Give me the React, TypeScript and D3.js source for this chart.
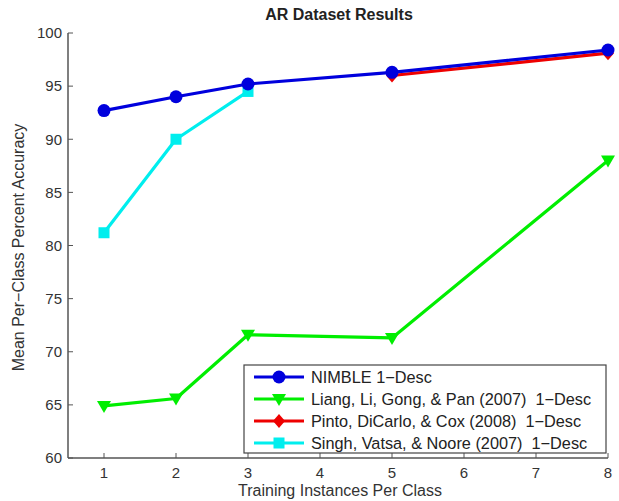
import React from "react";
import * as d3 from "d3";

const title = "AR Dataset Results";
const xLabel = "Training Instances Per Class";
const yLabel = "Mean Per\u2212Class Percent Accuracy";
const xTicks = [1, 2, 3, 4, 5, 6, 7, 8];
const yTicks = [60, 65, 70, 75, 80, 85, 90, 95, 100];

const nimbleX = [1, 2, 3, 5, 8];
const nimbleY = [92.7, 94.0, 95.2, 96.3, 98.4];
const liangX = [1, 2, 3, 5, 8];
const liangY = [64.9, 65.6, 71.6, 71.3, 88.0];
const pintoX = [5, 8];
const pintoY = [96.0, 98.1];
const singhX = [1, 2, 3];
const singhY = [81.2, 90.0, 94.5];

type Series = { name: string; xs: number[]; ys: number[]; color: string; marker: string };

const series: Series[] = [
  { name: "Liang, Li, Gong, & Pan (2007)  1\u2212Desc", xs: liangX, ys: liangY, color: "#00ee00", marker: "tri" },
  { name: "Singh, Vatsa, & Noore (2007)  1\u2212Desc", xs: singhX, ys: singhY, color: "#00eeee", marker: "square" },
  { name: "Pinto, DiCarlo, & Cox (2008)  1\u2212Desc", xs: pintoX, ys: pintoY, color: "#ee0000", marker: "diamond" },
  { name: "NIMBLE 1\u2212Desc", xs: nimbleX, ys: nimbleY, color: "#0000dd", marker: "circle" },
];
const legendOrder = [3, 0, 2, 1];

function Marker({ type, x, y, color }: { type: string; x: number; y: number; color: string }) {
  if (type === "circle") return <circle cx={x} cy={y} r={6.5} fill={color} />;
  if (type === "square") return <rect x={x - 5.5} y={y - 5.5} width={11} height={11} fill={color} />;
  if (type === "diamond")
    return <path d={`M${x},${y - 7}L${x + 6},${y}L${x},${y + 7}L${x - 6},${y}Z`} fill={color} />;
  return <path d={`M${x - 7},${y - 5}L${x + 7},${y - 5}L${x},${y + 7}Z`} fill={color} />;
}

export default function App() {
  const W = 619, H = 501;
  const x = d3.scaleLinear().domain([0.5, 8]).range([68, 608]);
  const y = d3.scaleLinear().domain([60, 100]).range([458, 33]);
  const font = "'Liberation Sans', Arial, sans-serif";
  const axisColor = "#555";
  const line = (s: Series) =>
    d3.line<number>().x((_, i) => x(s.xs[i])).y((v) => y(v))(s.ys) || "";

  const lg = { x: 244, y: 365, w: 362, h: 88, row: 22 };

  return (
    <svg width={W} height={H} style={{ position: "absolute", left: 0, top: 0 }} fontFamily={font}>
      <rect width={W} height={H} fill="#fff" />
      <text x={339} y={20} textAnchor="middle" fontSize={16} fontWeight="bold" fill="#222">
        {title}
      </text>
      {/* axes */}
      <line x1={x(0.5)} x2={x(0.5)} y1={y(100)} y2={y(60)} stroke={axisColor} strokeWidth={1.5} />
      <line x1={x(0.5)} x2={x(8)} y1={y(60)} y2={y(60)} stroke={axisColor} strokeWidth={1.5} />
      {yTicks.map((t) => (
        <g key={"y" + t}>
          <line x1={x(0.5)} x2={x(0.5) + 5} y1={y(t)} y2={y(t)} stroke={axisColor} strokeWidth={1} />
          <text x={x(0.5) - 6} y={y(t)} dy="0.35em" textAnchor="end" fontSize={15} fill="#333">
            {t}
          </text>
        </g>
      ))}
      {xTicks.map((t) => (
        <g key={"x" + t}>
          <line x1={x(t)} x2={x(t)} y1={y(60)} y2={y(60) - 5} stroke={axisColor} strokeWidth={1} />
          <text x={x(t)} y={y(60) + 20} textAnchor="middle" fontSize={15} fill="#333">
            {t}
          </text>
        </g>
      ))}
      <text x={340} y={496} textAnchor="middle" fontSize={16} fill="#333">
        {xLabel}
      </text>
      <text transform={`translate(24,${(y(60) + y(100)) / 2 + 2}) rotate(-90)`} textAnchor="middle" fontSize={16} fill="#333">
        {yLabel}
      </text>
      {/* series */}
      {series.map((s) => (
        <g key={s.name}>
          <path d={line(s)} fill="none" stroke={s.color} strokeWidth={3.2} strokeLinejoin="round" />
          {s.ys.map((v, i) => (
            <Marker key={i} type={s.marker} x={x(s.xs[i])} y={y(v)} color={s.color} />
          ))}
        </g>
      ))}
      {/* legend */}
      <rect x={lg.x} y={lg.y} width={lg.w} height={lg.h} fill="#fff" stroke="#444" strokeWidth={1.2} />
      {legendOrder.map((si, k) => {
        const s = series[si];
        const cy = lg.y + 12 + k * lg.row;
        return (
          <g key={"lg" + si}>
            <line x1={lg.x + 10} x2={lg.x + 60} y1={cy} y2={cy} stroke={s.color} strokeWidth={3.2} />
            <Marker type={s.marker} x={lg.x + 35} y={cy} color={s.color} />
            <text x={lg.x + 67} y={cy} dy="0.36em" fontSize={16.3} fill="#222" xmlSpace="preserve" style={{ whiteSpace: "pre" }}>
              {s.name}
            </text>
          </g>
        );
      })}
    </svg>
  );
}
